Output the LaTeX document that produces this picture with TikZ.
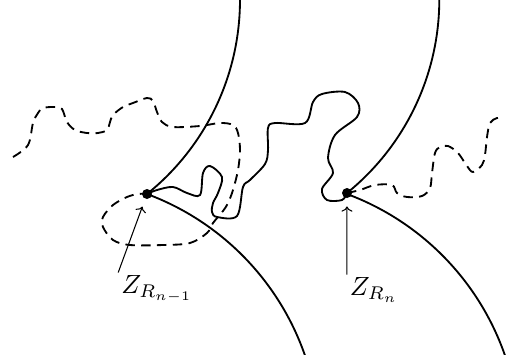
\documentclass[tikz,border=0pt]{standalone}
\usetikzlibrary{arrows.meta}

\begin{document}
\begin{tikzpicture}[x=0.38pt, y=-0.38pt,
      bound/.style={line width=0.7pt},
      walk/.style={line width=0.7pt},
      ghost/.style={line width=0.7pt, dash pattern=on 3.6pt off 2.4pt},
      hit/.style={circle, fill=black, inner sep=0pt, minimum size=3.8pt},
      tag/.style={inner sep=1pt},
      pointer/.style={-{To[length=2pt]}, line width=0.4pt, shorten >=3pt}]
    \useasboundingbox (0,0) rectangle (508,354);
    \clip (0,0) rectangle (508,354);
    % the four circle arcs
    \draw[bound] (147,194) arc[start angle=51.2, end angle=-8, radius=249];
    \draw[bound] (347,193) arc[start angle=51, end angle=-8, radius=249];
    \draw[bound] (147,194) arc[start angle=-69.6, end angle=-15, radius=265];
    \draw[bound] (347,194) arc[start angle=-69.6, end angle=-15, radius=265];
    % solid path between the two points
    \draw[walk] plot[smooth, tension=0.55] coordinates {
      (147,194) (157,190) (173,187) (187,193) (200,195) (203,173) (210,166)
      (222,177) (218,193) (213,203) (212,212) (217,217) (237,216) (243,187)
      (250,180) (265,164) (268,150) (268,128) (275,123) (305,123) (313,102)
      (322,94) (345,92) (358,103) (357,117) (335,135) (328,158) (333,173)
      (322,189) (327,200) (342,200) (347,193)};
    % dashed paths
    \draw[ghost] plot[smooth, tension=0.55] coordinates {
      (13,157) (28,145) (33,123) (38,113) (43,108) (55,107) (62,109) (67,122)
      (75,130) (87,133) (98,133) (107,130) (110,122) (113,115) (123,107)
      (133,103) (147,98) (153,101) (157,112) (162,122) (173,127) (200,126)
      (220,123) (233,125) (238,133) (240,150) (238,170) (233,190) (228,203)
      (223,211) (213,223) (207,233) (190,243) (163,245) (130,245) (113,240)
      (103,227) (103,217) (113,205) (127,197) (138,194) (147,194)};
    \draw[ghost] plot[smooth, tension=0.55] coordinates {
      (347,193) (360,190) (375,185) (392,185) (397,193) (407,197) (422,196)
      (430,188) (432,173) (435,153) (440,147) (448,146) (458,153) (467,166)
      (473,172) (482,165) (485,155) (487,137) (490,123) (497,118) (503,118)};
    % points and labels
    \node[hit] (zA) at (147,194) {};
    \node[hit] (zB) at (347,193) {};
    \node[tag] (lblA) at (157,289) {$Z_{R_{n-1}}$};
    \node[tag] (lblB) at (374,290) {$Z_{R_n}$};
    \draw[pointer] (lblA.north west) -- (zA);
    \draw[pointer] (lblB.north west) -- (zB);
\end{tikzpicture}
\end{document}
